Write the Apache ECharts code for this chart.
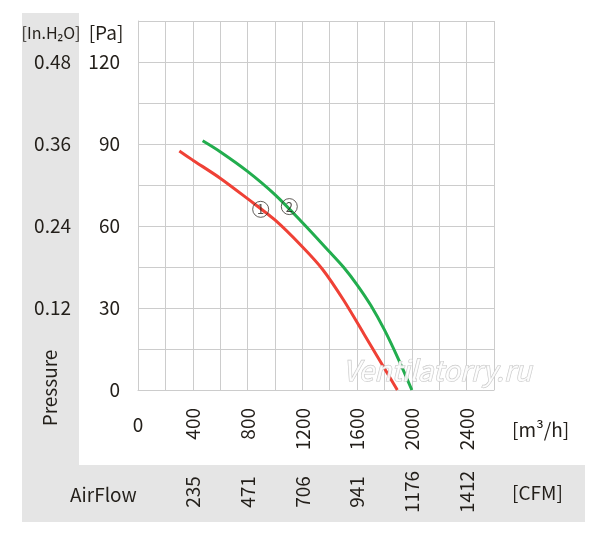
<!DOCTYPE html>
<html>
<head>
<meta charset="utf-8">
<script src="https://cdn.jsdelivr.net/npm/echarts@6/dist/echarts.min.js"></script>
<style>
  html, body { margin: 0; padding: 0; background: #fff; }
  #main { width: 600px; height: 543px; }
</style>
</head>
<body>
<div id="main"></div>
<script>
var myChart = echarts.init(document.getElementById('main'));

// curve 1 (red) and curve 2 (green): airflow m3/h vs pressure Pa
var flow1 = [302, 400, 600, 800, 1000, 1200, 1350, 1500, 1650, 1894];
var pres1 = [87.4, 84.1, 77.5, 70, 62.2, 52.4, 44, 33, 20.5, 0];
var flow2 = [472, 600, 800, 1000, 1200, 1400, 1500, 1600, 1700, 1800, 1900, 2000];
var pres2 = [91.2, 87.2, 80, 71.5, 61.3, 50.5, 45, 38.5, 31, 22, 11.5, 0];

// numbered circles on the curves
var markFlow = [896, 1105];
var markPres = [66.1, 67.1];
var markText = ['1', '2'];

// tick labels
var paTicks = [0, 30, 60, 90, 120];
var inchLabels = {30: '0.12', 60: '0.24', 90: '0.36', 120: '0.48'};
var flowTicks = [400, 800, 1200, 1600, 2000, 2400];
var cfmLabels = {400: '235', 800: '471', 1200: '706', 1600: '941', 2000: '1176', 2400: '1412'};

var font = '"Noto Sans CJK SC", "Noto Sans", sans-serif';
var txt = '#231f1a';

function pairs(xs, ys) {
    var out = [];
    for (var i = 0; i < xs.length; i++) out.push([xs[i], ys[i]]);
    return out;
}

var markData = [];
for (var i = 0; i < markFlow.length; i++) {
    markData.push({value: [markFlow[i], markPres[i]], name: markText[i]});
}

var lbl = {color: txt, fontSize: 19, fontFamily: font};

option = {
    animation: false,
    grid: {left: 138, top: 21, width: 356, height: 369, outerBoundsMode: 'none', containLabel: false},
    graphic: [
        {type: 'rect', z: -10, shape: {x: 22, y: 13, width: 57, height: 452}, style: {fill: '#e5e5e5'}},
        {type: 'rect', z: -10, shape: {x: 22, y: 465, width: 563, height: 57}, style: {fill: '#e5e5e5'}},
        {type: 'text', x: 51, y: 33, style: {text: '[In.H₂O]', fill: txt, font: '16px ' + font, textAlign: 'center', textVerticalAlign: 'middle'}},
        {type: 'text', x: 106, y: 33, style: {text: '[Pa]', fill: txt, font: '19px ' + font, textAlign: 'center', textVerticalAlign: 'middle'}},
        {type: 'text', x: 50, y: 388, rotation: Math.PI / 2, style: {text: 'Pressure', fill: txt, font: '19px ' + font, textAlign: 'center', textVerticalAlign: 'middle'}},
        {type: 'text', x: 512, y: 430, style: {text: '[m³/h]', fill: txt, font: '19px ' + font, textAlign: 'left', textVerticalAlign: 'middle'}},
        {type: 'text', x: 70, y: 495, style: {text: 'AirFlow', fill: txt, font: '19px ' + font, textAlign: 'left', textVerticalAlign: 'middle'}},
        {type: 'text', x: 512, y: 493, style: {text: '[CFM]', fill: txt, font: '19px ' + font, textAlign: 'left', textVerticalAlign: 'middle'}},
        {type: 'text', x: 343, y: 370, z: 100, style: {text: 'Ventilatorry.ru', fill: 'rgba(255,255,255,0.85)', stroke: '#c8c8c8', lineWidth: 1.2, font: 'italic 28px ' + font, textAlign: 'left', textVerticalAlign: 'middle'}}
    ],
    xAxis: [
        {
            type: 'value', position: 'bottom', min: 0, max: 2600, interval: 200,
            axisLine: {lineStyle: {color: '#cccccc'}},
            axisTick: {show: false},
            splitLine: {lineStyle: {color: '#cccccc'}},
            axisLabel: Object.assign({}, lbl, {
                rotate: 90, margin: 18,
                formatter: function (v) { return flowTicks.indexOf(v) >= 0 ? String(v) : ''; }
            })
        },
        {
            type: 'value', position: 'bottom', offset: 0, min: 0, max: 2600, interval: 200,
            axisLine: {show: false}, axisTick: {show: false}, splitLine: {show: false},
            axisLabel: Object.assign({}, lbl, {
                margin: 25,
                formatter: function (v) { return v === 0 ? '0' : ''; }
            })
        },
        {
            type: 'value', position: 'bottom', offset: 0, min: 0, max: 2600, interval: 200,
            axisLine: {show: false}, axisTick: {show: false}, splitLine: {show: false},
            axisLabel: Object.assign({}, lbl, {
                rotate: 90, margin: 102, align: 'center',
                formatter: function (v) { return cfmLabels[v] || ''; }
            })
        }
    ],
    yAxis: [
        {
            type: 'value', position: 'left', min: 0, max: 135, interval: 15,
            axisLine: {show: true, lineStyle: {color: '#cccccc'}},
            axisTick: {show: false},
            splitLine: {lineStyle: {color: '#cccccc'}},
            axisLabel: Object.assign({}, lbl, {
                margin: 18,
                formatter: function (v) { return paTicks.indexOf(v) >= 0 ? String(v) : ''; }
            })
        },
        {
            type: 'value', position: 'left', offset: 49, min: 0, max: 135, interval: 15,
            axisLine: {show: false}, axisTick: {show: false}, splitLine: {show: false},
            axisLabel: Object.assign({}, lbl, {
                margin: 18,
                formatter: function (v) { return inchLabels[v] || ''; }
            })
        }
    ],
    series: [
        {
            name: '1', type: 'line', smooth: 0.3, showSymbol: false,
            lineStyle: {color: '#ef4136', width: 3},
            data: pairs(flow1, pres1)
        },
        {
            name: '2', type: 'line', smooth: 0.3, showSymbol: false,
            lineStyle: {color: '#22ad4e', width: 3},
            data: pairs(flow2, pres2)
        },
        {
            name: 'marks', type: 'scatter', symbol: 'circle', symbolSize: 16, z: 5,
            itemStyle: {color: 'rgba(255,255,255,0)', borderColor: '#3a3530', borderWidth: 1},
            label: {show: true, position: 'inside', formatter: '{b}', color: txt, fontSize: 13, fontFamily: font},
            data: markData
        }
    ]
};

myChart.setOption(option);
</script>
</body>
</html>
